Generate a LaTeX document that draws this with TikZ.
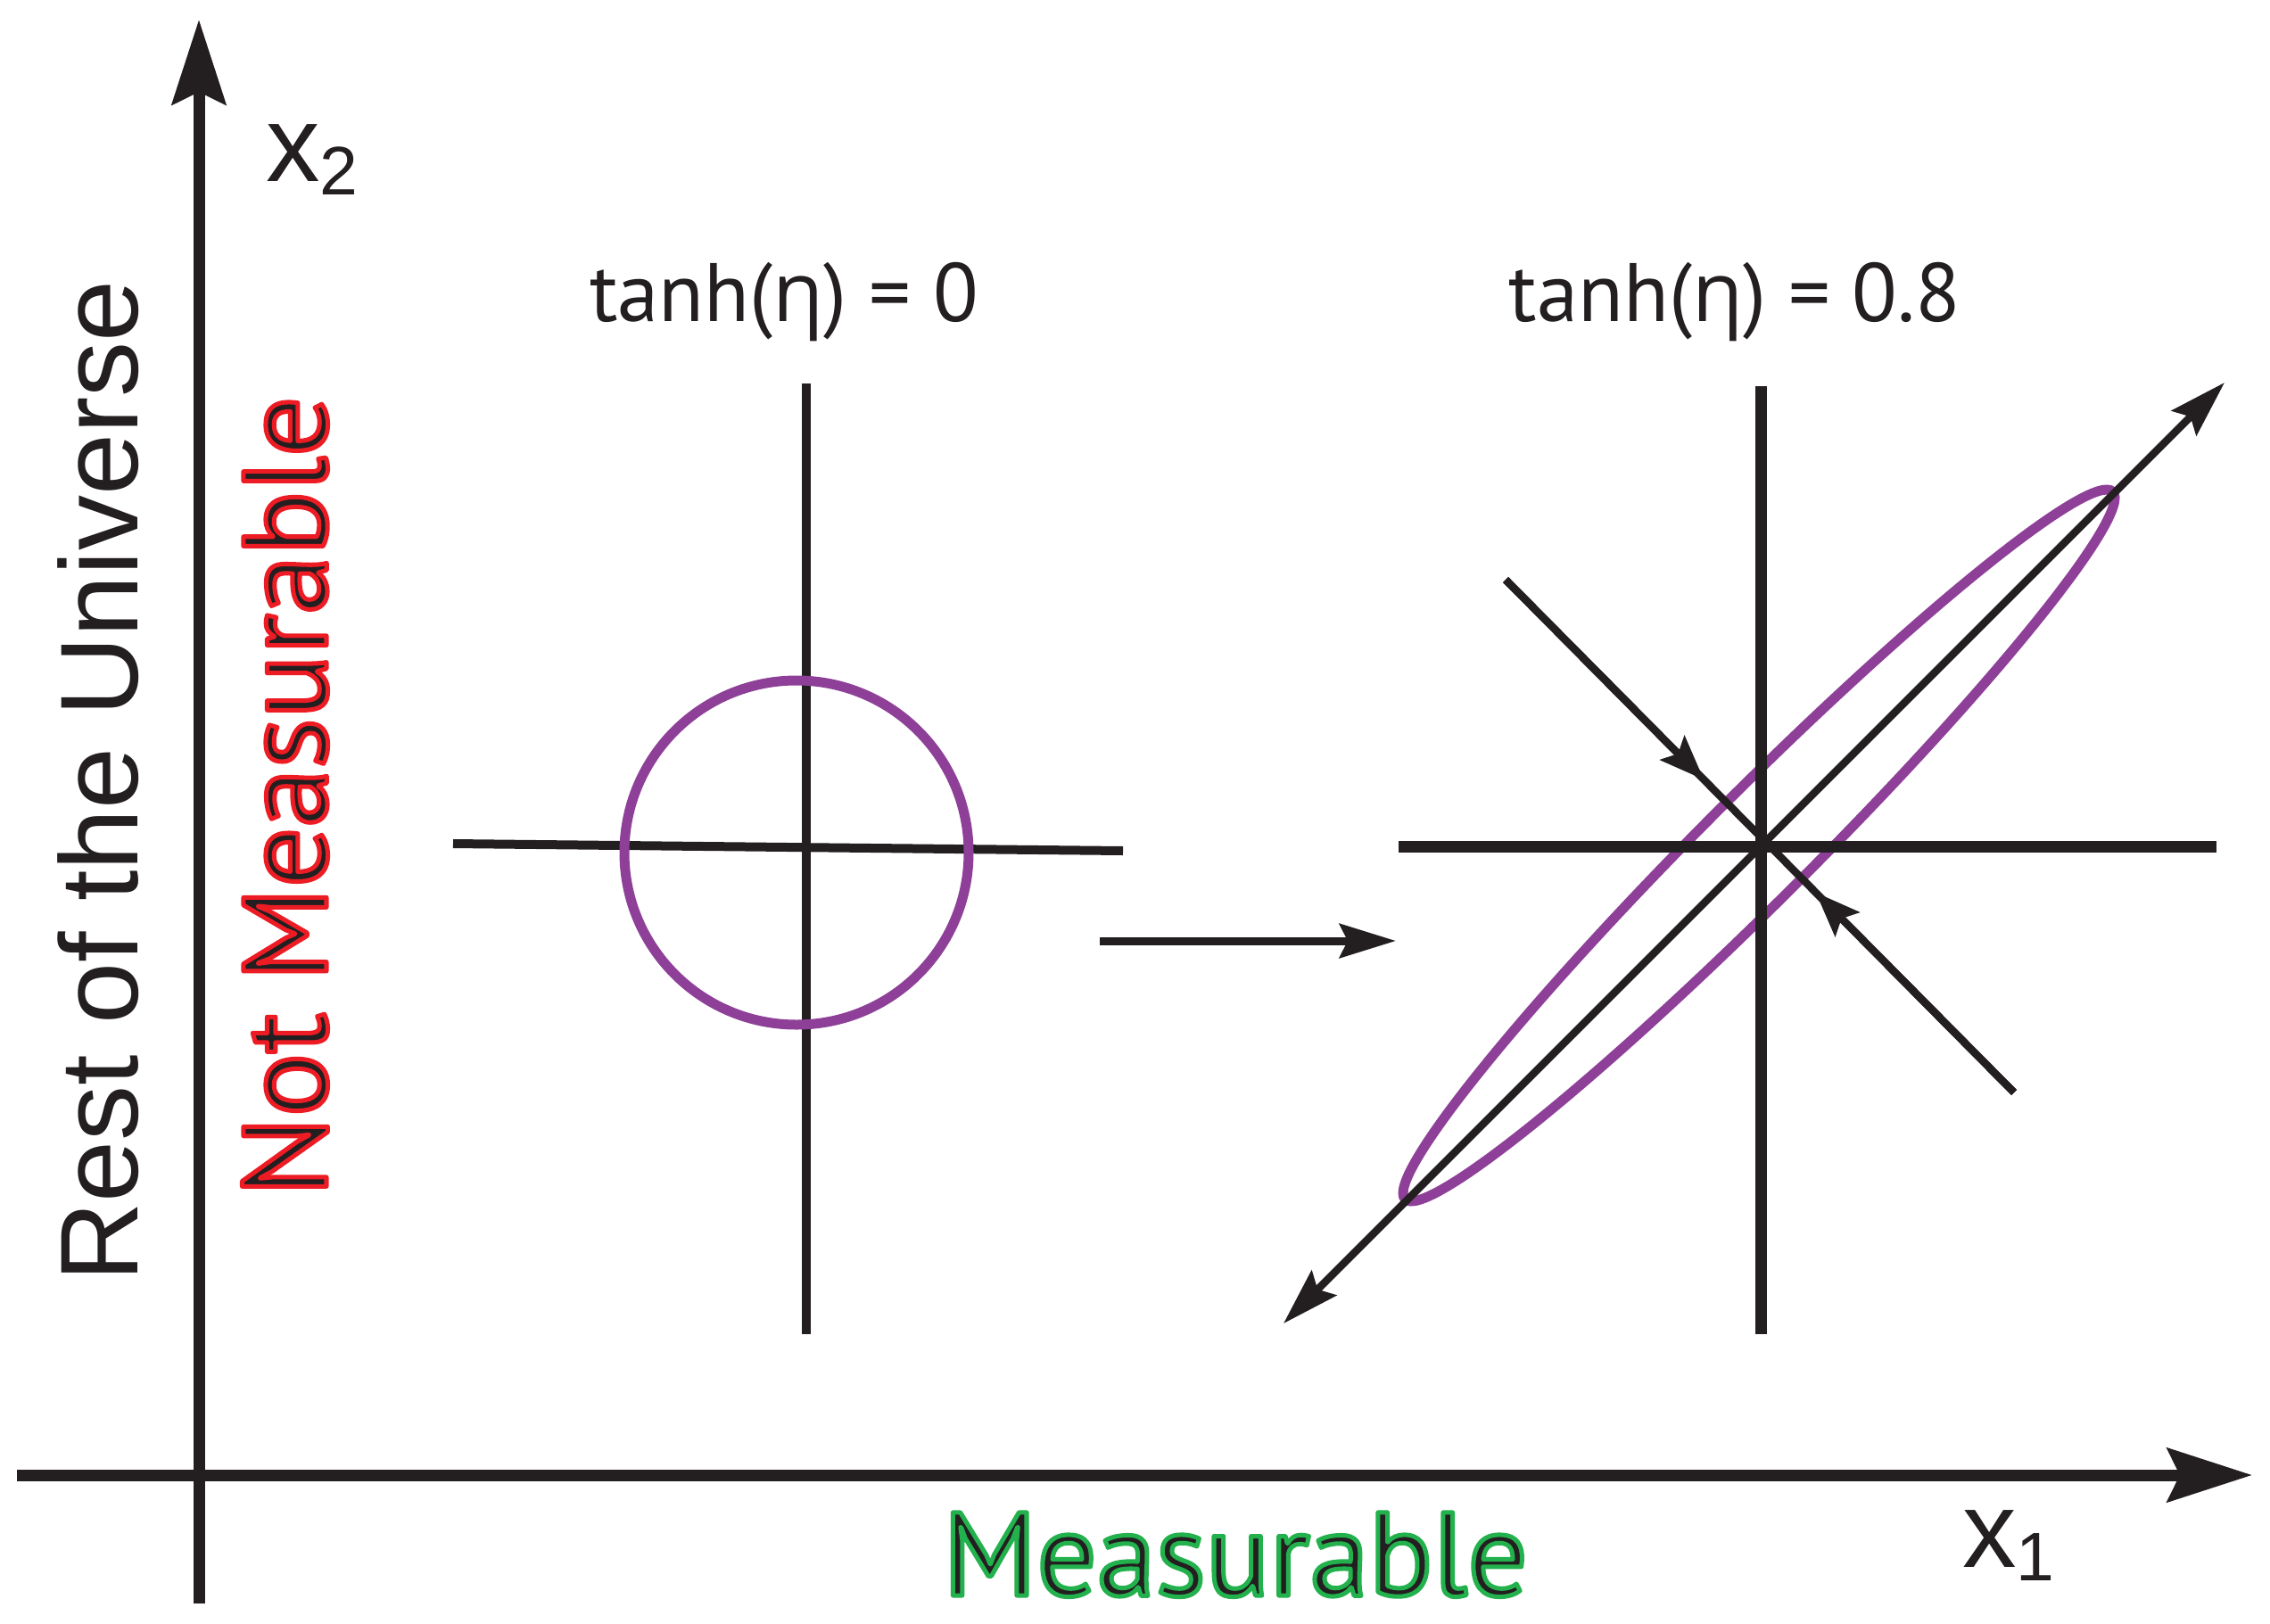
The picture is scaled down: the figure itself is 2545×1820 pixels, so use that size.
\documentclass[tikz,border=0pt]{standalone}
\usepackage{fontspec}
\setmainfont{PT Sans}
\newfontfamily\arialf{Liberation Sans}
\newfontfamily\etaf{Open Sans}
\usetikzlibrary{arrows.meta,calc}
\definecolor{ink}{HTML}{231F20}
\definecolor{violetline}{RGB}{142,64,152}
% outlined text: black fill with a coloured stroke (PDF text render mode 2)
\newcommand{\outlinedtext}[2]{%
  \special{pdf:literal #1 RG 5 w 1 j 2 Tr}#2\special{pdf:literal 0 Tr 0 j}}
\begin{document}
\begin{tikzpicture}[x=1pt,y=-1pt,
  every node/.style={inner sep=0pt, text=ink},
  axis/.style={draw=ink, line width=13pt, -{Stealth[length=95pt,width=60pt,inset=14pt]}},
  crossline/.style={draw=ink, line width=12pt},
  diag/.style={draw=ink, line width=8.5pt},
  dblarrow/.style={diag, {Stealth[length=64pt,width=39pt,inset=10pt]}-{Stealth[length=64pt,width=39pt,inset=10pt]}},
  midarrow/.style={diag, -{Stealth[length=50pt,width=38pt,inset=9pt]}},
  maparrow/.style={draw=ink, line width=9pt, -{Stealth[length=63pt,width=38pt,inset=9pt]}},
  state/.style={draw=violetline, line width=11pt},
  tanhlabel/.style={anchor=base, font={\fontsize{93pt}{100pt}\selectfont}},
  arial/.style={font={\arialf\fontsize{124pt}{130pt}\selectfont}},
  outlined/.style={font={\fontsize{133pt}{140pt}\selectfont}}
]
\fill[white] (0,0) rectangle (2545,1820);
\useasboundingbox (0,0) rectangle (2545,1820);

% main axes
\coordinate (vbot) at (223,1798);
\coordinate (vtop) at (223,22);
\coordinate (hleft) at (19,1654);
\coordinate (hright) at (2525,1654);
\draw[axis] (vbot) -- (vtop);
\draw[axis] (hleft) -- (hright);

% left cross and circle
\coordinate (lct) at (904,430);
\coordinate (lcb) at (904,1496);
\coordinate (lcl) at (508,946);
\coordinate (lcr) at (1259,954);
\coordinate (cc) at (893,956);
\draw[crossline, line width=10pt] (lct) -- (lcb);
\draw[crossline, line width=10pt] (lcl) -- (lcr);
\draw[state] (cc) circle[radius=193pt];

% map arrow
\coordinate (ma) at (1233,1055);
\coordinate (mb) at (1565,1055);
\draw[maparrow] (ma) -- (mb);

% right cross
\coordinate (rct) at (1974,433);
\coordinate (rcb) at (1974,1496);
\coordinate (rcl) at (1568,949);
\coordinate (rcr) at (2485,949);
\coordinate (ec) at (1972,948);
\draw[state, rotate around={45:(ec)}] (ec) ellipse[x radius=561pt, y radius=60pt];
\draw[crossline, line width=13pt] (rct) -- (rcb);
\draw[crossline, line width=13pt] (rcl) -- (rcr);

% diagonals
\coordinate (dll) at (1439,1484);
\coordinate (dur) at (2494,429);
\draw[dblarrow] (dll) -- (dur);
\coordinate (aul) at (1688,650);
\coordinate (alr) at (2258,1225);
\draw[diag] (aul) -- (alr);
\draw[midarrow] (aul) -- ($(aul)!0.39!(alr)$);
\draw[midarrow] (alr) -- ($(alr)!0.39!(aul)$);

% labels
\node[tanhlabel] (t0) at (879,360) {tanh({\etaf η}) = 0};
\node[tanhlabel] (t8) at (1945,360) {tanh({\etaf η}) = 0.8};

\node[arial, rotate=90, anchor=base] (rest) at (154,876) {Rest of the Universe};

\node[anchor=base west, font={\arialf\fontsize{121pt}{130pt}\selectfont}] (x2) at (298,203)
  {x\raisebox{-15pt}{\fontsize{77pt}{80pt}\selectfont 2}};
\node[anchor=base west, font={\arialf\fontsize{121pt}{130pt}\selectfont}] (x1) at (2200,1757)
  {x\raisebox{-15pt}{\fontsize{77pt}{80pt}\selectfont 1}};

\node[outlined, rotate=90, anchor=base] (notm) at (366,893)
  {\outlinedtext{0.929 0.110 0.141}{Not Measurable}};
\node[outlined, anchor=base] (meas) at (1385,1789)
  {\outlinedtext{0.133 0.694 0.298}{Measurable}};
\end{tikzpicture}
\end{document}
